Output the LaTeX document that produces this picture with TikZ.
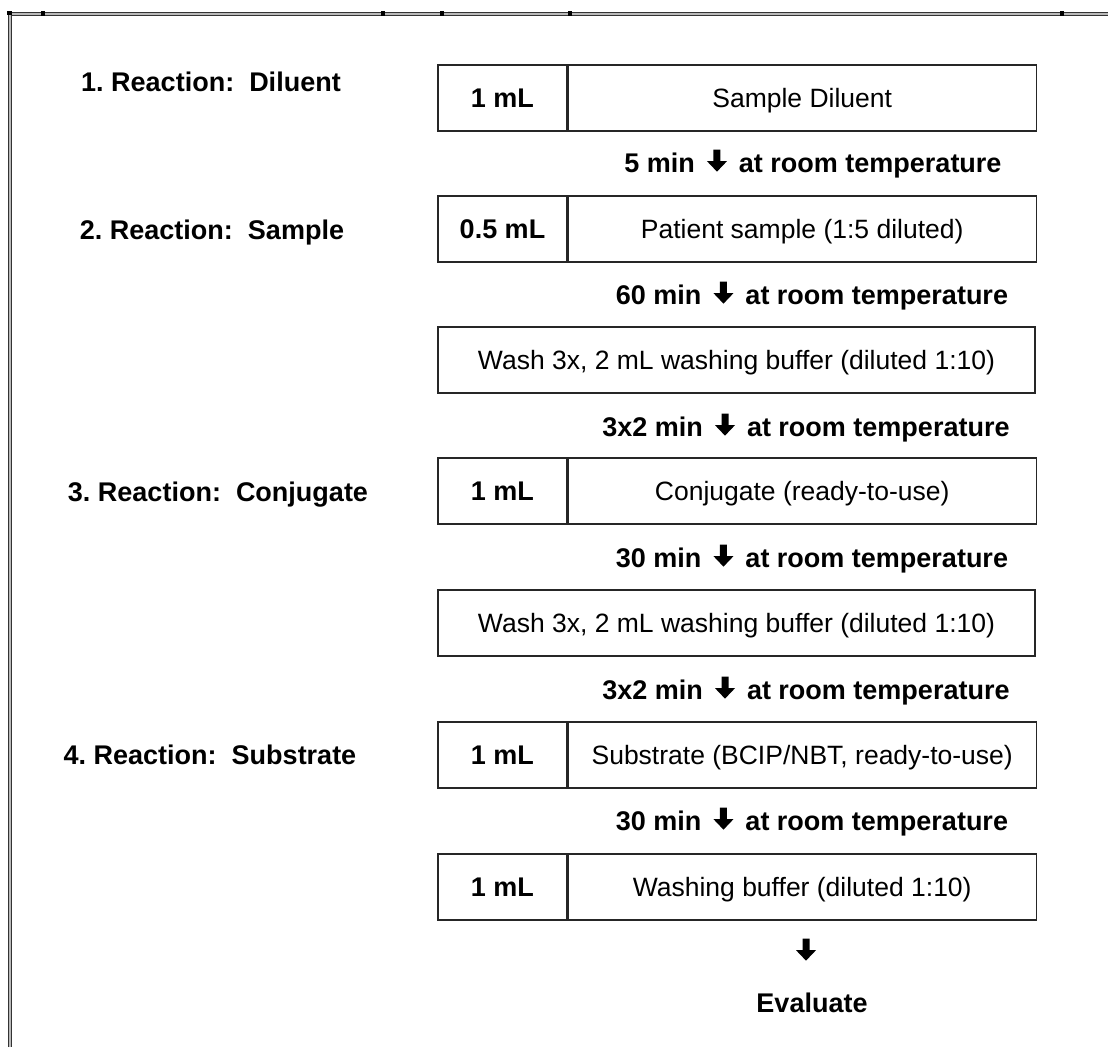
\documentclass[tikz,border=0pt]{standalone}
\usepackage{fontspec}
\setmainfont{Liberation Sans}
\frenchspacing
\usetikzlibrary{positioning}
% thick down arrow between time and temperature
\newcommand{\flowarr}{\hspace{12pt}\tikz[baseline=-1pt]\fill (-3.5pt,22pt)--(3.5pt,22pt)--(3.5pt,10.5pt)--(10pt,10.5pt)--(0pt,0pt)--(-10pt,10.5pt)--(-3.5pt,10.5pt)--cycle;\hspace{12pt}}
\begin{document}
\begin{tikzpicture}[x=1pt,y=-1pt,
    txt/.style={inner sep=0pt,text height=19pt,text depth=0pt,font=\fontsize{26.5}{31}\selectfont},
    bold/.style={txt,text height=19.3pt,font=\fontsize{27}{31}\selectfont\bfseries},
    amt/.style={bold,draw=black!85,line width=1.2pt,minimum width=129pt,minimum height=66pt},
    cont/.style={txt,draw=black!85,line width=1.2pt,minimum width=468pt,minimum height=66pt},
    wash/.style={txt,draw=black!85,line width=1.2pt,minimum width=597pt,minimum height=66pt},
    frame/.style={line width=1pt,draw=black!80,double=gray!55,double distance=2pt}]
  \useasboundingbox (0,0) rectangle (1108,1047);
  % frame
  \draw[frame] (9.5,1047)--(9.5,13.5)--(1108,13.5);
  \fill (7,11) rectangle (12,15);
  \foreach \x in {43,383,442,570,1062}{%
    \fill (\x-2,11) rectangle (\x+2,16);
  }
  % reaction labels
  \node[bold] (l1) at (211,82) {1. Reaction:\ \ Diluent};
  \node[bold] (l2) at (212,230) {2. Reaction:\ \ Sample};
  \node[bold] (l3) at (218,492) {3. Reaction:\ \ Conjugate};
  \node[bold] (l4) at (210,755) {4. Reaction:\ \ Substrate};
  % steps
  \node[amt] (a1) at (502.5,98) {1 mL};
  \node[cont,right=0pt of a1] (c1) {Sample Diluent};
  \node[bold] (r1) at (813,163) {5 min\flowarr at room temperature};
  \node[amt] (a2) at (502.5,229) {0.5 mL};
  \node[cont,right=0pt of a2] (c2) {Patient sample (1:5 diluted)};
  \node[bold] (r2) at (812,295) {60 min\flowarr at room temperature};
  \node[wash] (w1) at (736.5,360) {Wash 3x, 2 mL washing buffer (diluted 1:10)};
  \node[bold] (r3) at (806,427) {3x2 min\flowarr at room temperature};
  \node[amt] (a3) at (502.5,491) {1 mL};
  \node[cont,right=0pt of a3] (c3) {Conjugate (ready-to-use)};
  \node[bold] (r4) at (812,558) {30 min\flowarr at room temperature};
  \node[wash] (w2) at (736.5,623) {Wash 3x, 2 mL washing buffer (diluted 1:10)};
  \node[bold] (r5) at (806,690) {3x2 min\flowarr at room temperature};
  \node[amt] (a4) at (502.5,755) {1 mL};
  \node[cont,right=0pt of a4] (c4) {Substrate (BCIP/NBT, ready-to-use)};
  \node[bold] (r6) at (812,821) {30 min\flowarr at room temperature};
  \node[amt] (a5) at (502.5,887) {1 mL};
  \node[cont,right=0pt of a5] (c5) {Washing buffer (diluted 1:10)};
  \node[bold] (r7) at (812,952) {\hspace{-12pt}\flowarr\hspace{-12pt}};
  \node[bold] (ev) at (812,1003) {Evaluate};
\end{tikzpicture}
\end{document}
